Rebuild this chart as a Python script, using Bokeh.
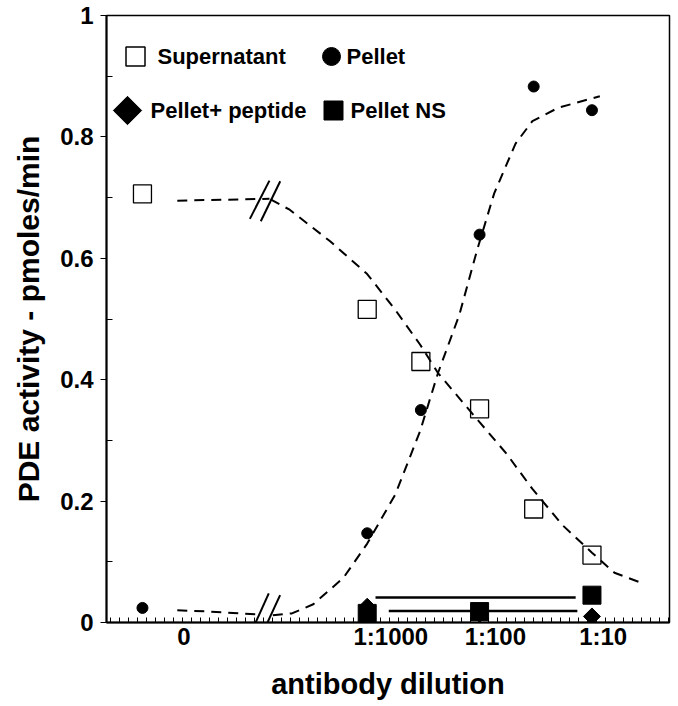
import math
import numpy as np
from bokeh.plotting import figure
from bokeh.models import Range1d, FixedTicker, Label
from bokeh.embed import file_html
from bokeh.resources import INLINE

# ---------------- data ----------------
ZERO_POS = -5.0                      # axis position used for "no antibody" (left of the break)
dilution_factor = [0, 1000, 333, 100, 33, 10]   # 0 = no antibody
supernatant = [0.706, 0.516, 0.430, 0.352, 0.187, 0.111]
pellet = [0.024, 0.147, 0.350, 0.639, 0.883, 0.844]

ctrl_factor = [1000, 100, 10]
pellet_peptide = [0.026, 0.014, 0.010]
pellet_ns = [0.015, 0.018, 0.045]

# dashed fitted curves, x = log10(1/dilution)
sup_curve_a_x = [-4.69, -3.87]
sup_curve_a_y = [0.695, 0.698]
sup_curve_b_x = [-3.86, -3.69, -3.33, -3.0, -2.75, -2.53, -2.37, -2.0, -1.76, -1.53, -1.26, -1.0, -0.80, -0.57]
sup_curve_b_y = [0.697, 0.680, 0.628, 0.574, 0.515, 0.458, 0.411, 0.330, 0.278, 0.220, 0.160, 0.115, 0.082, 0.066]
pel_curve_a_x = [-4.69, -4.40, -3.94]
pel_curve_a_y = [0.020, 0.018, 0.013]
pel_curve_b_x = [-3.84, -3.67, -3.48, -3.21, -3.0, -2.75, -2.53, -2.37, -2.18, -2.02, -1.87, -1.68, -1.53, -1.30, -0.93]
pel_curve_b_y = [0.012, 0.015, 0.030, 0.074, 0.130, 0.211, 0.315, 0.411, 0.507, 0.615, 0.707, 0.789, 0.826, 0.848, 0.867]

# horizontal bars near the baseline
bar_x0 = [-2.926, -2.808]
bar_x1 = [-1.145, -1.130]
bar_y = [0.041, 0.019]

# axis break marks
brk_x0 = [-4.044, -3.947, -4.039, -3.940]
brk_y0 = [0.665, 0.661, -0.019, -0.021]
brk_x1 = [-3.870, -3.774, -3.876, -3.775]
brk_y1 = [0.728, 0.727, 0.048, 0.045]

x_tick_pos = [-4.63, -2.79, -1.86, -0.90]
x_tick_labels = ["0", "1:1000", "1:100", "1:10"]
y_ticks = [0, 0.2, 0.4, 0.6, 0.8, 1]
y_tick_labels = ["0", "0.2", "0.4", "0.6", "0.8", "1"]

legend_labels = ["Supernatant", "Pellet", "Pellet+ peptide", "Pellet NS"]


def to_axis(f):
    return ZERO_POS if f == 0 else math.log10(1.0 / f)


x_main = [to_axis(f) for f in dilution_factor]
x_ctrl = [to_axis(f) for f in ctrl_factor]

FONT = "Liberation Sans"
FRAME_W, FRAME_H = 563, 607

p = figure(width=672, height=706,
           x_range=Range1d(-5.32, -0.31), y_range=Range1d(0, 1),
           output_backend="svg", toolbar_location=None,
           min_border_left=106, min_border_right=3, min_border_top=15, min_border_bottom=84)
p.extra_x_ranges = {"px": Range1d(0, FRAME_W)}
p.extra_y_ranges = {"py": Range1d(0, FRAME_H)}

p.grid.visible = False
p.outline_line_color = "black"
p.outline_line_width = 1.5
p.background_fill_color = "white"
p.border_fill_color = "white"

# axes
xa = p.xaxis[0]
xa.ticker = FixedTicker(ticks=x_tick_pos, minor_ticks=list(np.arange(-5.28, -0.31, 0.08)))
xa.major_label_overrides = {k: v for k, v in zip(x_tick_pos, x_tick_labels)}
xa.major_tick_in = 0
xa.major_tick_out = 0
xa.minor_tick_in = 5
xa.minor_tick_out = 0
xa.axis_line_width = 2
xa.axis_line_color = "black"
xa.minor_tick_line_color = "black"
xa.major_label_text_font = FONT
xa.major_label_text_font_style = "bold"
xa.major_label_text_font_size = "24px"
xa.major_label_text_color = "black"
xa.major_label_standoff = 0
xa.axis_label = "antibody dilution"
xa.axis_label_text_font = FONT
xa.axis_label_text_font_style = "bold"
xa.axis_label_text_font_size = "29px"
xa.axis_label_text_color = "black"
xa.axis_label_standoff = 15

ya = p.yaxis[0]
ya.ticker = FixedTicker(ticks=y_ticks, minor_ticks=[0.1, 0.3, 0.5, 0.7, 0.9])
ya.major_label_overrides = {k: v for k, v in zip(y_ticks, y_tick_labels)}
ya.major_tick_in = 0
ya.major_tick_out = 6
ya.minor_tick_in = 6
ya.minor_tick_out = 0
ya.axis_line_width = 2
ya.axis_line_color = "black"
ya.major_tick_line_color = "black"
ya.minor_tick_line_color = "black"
ya.major_label_text_font = FONT
ya.major_label_text_font_style = "bold"
ya.major_label_text_font_size = "24px"
ya.major_label_text_color = "black"
ya.major_label_standoff = 7
ya.axis_label = "PDE activity - pmoles/min"
ya.axis_label_text_font = FONT
ya.axis_label_text_font_style = "bold"
ya.axis_label_text_font_size = "30px"
ya.axis_label_text_color = "black"
ya.axis_label_standoff = 12

# curves
for cx, cy in [(sup_curve_a_x, sup_curve_a_y), (sup_curve_b_x, sup_curve_b_y),
               (pel_curve_a_x, pel_curve_a_y), (pel_curve_b_x, pel_curve_b_y)]:
    p.line(cx, cy, line_color="black", line_width=2, line_dash="10 7")

# break marks
p.segment(x0=brk_x0, y0=brk_y0, x1=brk_x1, y1=brk_y1, line_color="black", line_width=2)

# horizontal bars
p.segment(x0=bar_x0, y0=bar_y, x1=bar_x1, y1=bar_y, line_color="black", line_width=2.5)

# markers
p.scatter(x_main, supernatant, marker="square", size=18, fill_color=None,
          line_color="black", line_width=1.3)
p.scatter(x_main, pellet, marker="circle", size=11, fill_color="black", line_color="black")
p.scatter(x_ctrl, pellet_ns, marker="square", size=18, fill_color="black", line_color="black")
p.scatter(x_ctrl, pellet_peptide, marker="square", angle=math.pi / 4, size=12,
          fill_color="black", line_color="black")

# legend (drawn in frame-pixel coordinates)
p.scatter([29], [566], marker="square", size=19, fill_color=None, line_color="black",
          line_width=1.5, x_range_name="px", y_range_name="py")
p.scatter([225], [566], marker="circle", size=18, fill_color="black", line_color="black",
          x_range_name="px", y_range_name="py")
p.scatter([21], [512], marker="square", angle=math.pi / 4, size=20, fill_color="black",
          line_color="black", x_range_name="px", y_range_name="py")
p.scatter([227], [512], marker="square", size=19, fill_color="black", line_color="black",
          x_range_name="px", y_range_name="py")
for (lx, ly), txt in zip([(51, 566), (240, 566), (44, 512), (244, 512)], legend_labels):
    p.add_layout(Label(x=lx, y=ly, text=txt, x_range_name="px", y_range_name="py",
                       text_font=FONT, text_font_style="bold", text_font_size="22px",
                       text_baseline="middle", text_align="left", text_color="black"))

open("out.html", "w").write(file_html(p, INLINE))
